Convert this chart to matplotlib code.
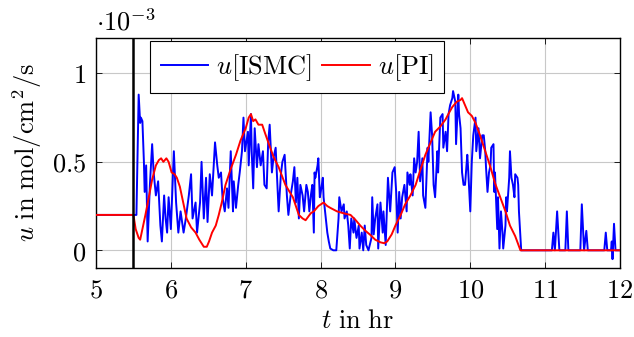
import matplotlib
matplotlib.use("Agg")
import matplotlib.pyplot as plt
import numpy as np

plt.rcParams['mathtext.fontset'] = 'cm'
plt.rcParams['font.family'] = 'serif'
plt.rcParams['font.serif'] = ['DejaVu Serif']

# PI control signal (x1e-3 mol/cm^2/s) vs time (hr)
pi_t = [5.0, 5.5, 5.53, 5.57, 5.59, 5.62, 5.66, 5.71, 5.75, 5.8, 5.84, 5.87, 5.9, 5.94, 5.97,
        6.01, 6.05, 6.08, 6.12, 6.15, 6.18, 6.21, 6.27, 6.33, 6.38, 6.44, 6.48, 6.51, 6.55, 6.6,
        6.64, 6.68, 6.73, 6.8, 6.87, 6.93, 7.0, 7.04, 7.07, 7.1, 7.13, 7.17, 7.22, 7.26, 7.31,
        7.37, 7.44, 7.53, 7.63, 7.71, 7.76, 7.8, 7.87, 7.91, 7.97, 8.04, 8.09, 8.13, 8.22, 8.3,
        8.4, 8.47, 8.53, 8.6, 8.67, 8.73, 8.8, 8.85, 8.89, 8.95, 9.0, 9.07, 9.13, 9.2, 9.27,
        9.33, 9.4, 9.47, 9.53, 9.6, 9.67, 9.72, 9.76, 9.82, 9.87, 9.89, 9.93, 9.97, 10.02, 10.07,
        10.13, 10.2, 10.27, 10.33, 10.4, 10.47, 10.53, 10.6, 10.67, 12.0]
pi_u = [0.2, 0.2, 0.12, 0.07, 0.06, 0.12, 0.2, 0.31, 0.4, 0.48, 0.51, 0.52, 0.5, 0.52, 0.5,
        0.44, 0.43, 0.41, 0.36, 0.30, 0.24, 0.18, 0.13, 0.10, 0.06, 0.02, 0.02, 0.05, 0.10, 0.14,
        0.2, 0.27, 0.37, 0.46, 0.54, 0.62, 0.69, 0.75, 0.77, 0.73, 0.74, 0.71, 0.71, 0.66, 0.60,
        0.53, 0.47, 0.37, 0.30, 0.20, 0.18, 0.17, 0.21, 0.22, 0.25, 0.27, 0.25, 0.24, 0.22, 0.21,
        0.20, 0.17, 0.14, 0.11, 0.085, 0.06, 0.045, 0.04, 0.05, 0.09, 0.14, 0.2, 0.26, 0.31, 0.37,
        0.45, 0.54, 0.61, 0.67, 0.70, 0.74, 0.78, 0.81, 0.84, 0.85, 0.86, 0.82, 0.78, 0.76, 0.72,
        0.65, 0.56, 0.47, 0.38, 0.30, 0.22, 0.14, 0.08, 0.0, 0.0]

# ISMC control signal
ismc_t = [5.0, 5.5, 5.54, 5.57, 5.59, 5.6, 5.62, 5.64, 5.65, 5.67, 5.69, 5.72, 5.75, 5.77, 5.8,
          5.83, 5.86, 5.88, 5.91, 5.93, 5.95, 5.97, 6.0, 6.04, 6.07, 6.1, 6.13, 6.17, 6.2, 6.24,
          6.27, 6.29, 6.33, 6.35, 6.39, 6.41, 6.44, 6.47, 6.49, 6.52, 6.55, 6.59, 6.62, 6.64, 6.67,
          6.69, 6.72, 6.75, 6.77, 6.8, 6.83, 6.84, 6.87, 6.9, 6.92, 6.95, 6.97, 6.99, 7.03, 7.04,
          7.07, 7.08, 7.1, 7.12, 7.15, 7.17, 7.2, 7.23, 7.25, 7.28, 7.3, 7.32, 7.35, 7.37, 7.4,
          7.43, 7.44, 7.47, 7.49, 7.52, 7.55, 7.57, 7.6, 7.63, 7.65, 7.67, 7.69, 7.71, 7.73, 7.76,
          7.78, 7.81, 7.83, 7.85, 7.87, 7.89, 7.91, 7.92, 7.93, 7.96, 7.97, 7.99, 8.01, 8.03, 8.04,
          8.07, 8.09, 8.11, 8.13, 8.17, 8.21, 8.24, 8.25, 8.28, 8.31, 8.32, 8.35, 8.37, 8.39, 8.41,
          8.44, 8.45, 8.48, 8.51, 8.52, 8.55, 8.57, 8.59, 8.61, 8.64, 8.68, 8.69, 8.71, 8.73, 8.76,
          8.77, 8.8, 8.83, 8.84, 8.87, 8.9, 8.93, 8.96, 8.99, 9.01, 9.03, 9.05, 9.07, 9.09, 9.12,
          9.15, 9.16, 9.19, 9.2, 9.23, 9.25, 9.27, 9.29, 9.31, 9.33, 9.36, 9.37, 9.4, 9.43, 9.44,
          9.47, 9.49, 9.51, 9.53, 9.56, 9.57, 9.6, 9.63, 9.64, 9.67, 9.69, 9.71, 9.73, 9.76, 9.77,
          9.8, 9.81, 9.84, 9.85, 9.87, 9.89, 9.91, 9.93, 9.96, 9.97, 10.0, 10.02, 10.04, 10.07, 10.08,
          10.11, 10.13, 10.16, 10.18, 10.2, 10.21, 10.23, 10.25, 10.27, 10.28, 10.31, 10.32, 10.33, 10.36, 10.37,
          10.39, 10.41, 10.43, 10.44, 10.47, 10.48, 10.49, 10.52, 10.53, 10.55, 10.57, 10.59, 10.6, 10.63, 10.64,
          10.65, 10.68, 11.09, 11.11, 11.13, 11.16, 11.19, 11.27, 11.29, 11.31, 11.47, 11.49, 11.52, 11.55, 11.57,
          11.79, 11.81, 11.83, 11.88, 11.89, 11.9, 11.92, 11.94, 12.0]
ismc_u = [0.2, 0.2, 0.2, 0.88, 0.72, 0.75, 0.73, 0.5, 0.33, 0.48, 0.05, 0.37, 0.6, 0.44, 0.31,
          0.39, 0.14, 0.05, 0.31, 0.18, 0.1, 0.3, 0.12, 0.56, 0.27, 0.1, 0.22, 0.1, 0.18, 0.31,
          0.43, 0.18, 0.27, 0.1, 0.27, 0.5, 0.18, 0.41, 0.16, 0.43, 0.31, 0.61, 0.48, 0.41, 0.44,
          0.3, 0.22, 0.35, 0.24, 0.56, 0.22, 0.39, 0.24, 0.37, 0.44, 0.56, 0.75, 0.56, 0.67, 0.48,
          0.77, 0.56, 0.35, 0.69, 0.47, 0.6, 0.48, 0.56, 0.37, 0.35, 0.61, 0.71, 0.44, 0.52, 0.58,
          0.31, 0.22, 0.43, 0.5, 0.54, 0.31, 0.2, 0.31, 0.39, 0.47, 0.27, 0.41, 0.18, 0.37, 0.31,
          0.22, 0.37, 0.33, 0.22, 0.31, 0.37, 0.1, 0.44, 0.41, 0.48, 0.52, 0.3, 0.35, 0.41, 0.3,
          0.18, 0.1, 0.05, 0.01, 0.0, 0.0, 0.18, 0.3, 0.22, 0.26, 0.18, 0.22, 0.14, 0.01, 0.18,
          0.1, 0.18, 0.07, 0.14, 0.01, 0.1, 0.0, 0.14, 0.03, 0.0, 0.07, 0.3, 0.09, 0.18, 0.26,
          0.01, 0.27, 0.1, 0.22, 0.03, 0.41, 0.22, 0.44, 0.47, 0.33, 0.1, 0.33, 0.18, 0.3, 0.37,
          0.22, 0.44, 0.37, 0.43, 0.31, 0.52, 0.44, 0.5, 0.67, 0.39, 0.52, 0.31, 0.24, 0.58, 0.5,
          0.78, 0.65, 0.37, 0.3, 0.56, 0.44, 0.75, 0.77, 0.58, 0.67, 0.56, 0.77, 0.82, 0.86, 0.9,
          0.84, 0.6, 0.88, 0.77, 0.69, 0.44, 0.37, 0.37, 0.54, 0.47, 0.22, 0.5, 0.65, 0.75, 0.56,
          0.69, 0.52, 0.65, 0.65, 0.56, 0.47, 0.33, 0.44, 0.48, 0.58, 0.6, 0.33, 0.44, 0.12, 0.3,
          0.01, 0.22, 0.1, 0.01, 0.14, 0.3, 0.22, 0.41, 0.56, 0.41, 0.37, 0.3, 0.43, 0.41, 0.37,
          0.22, 0.0, 0.0, 0.1, 0.0, 0.22, 0.0, 0.0, 0.22, 0.0, 0.0, 0.26, 0.0, 0.11, 0.0,
          0.0, 0.1, 0.0, 0.0, 0.05, -0.05, 0.15, 0.0, 0.0]

switch_time = 5.5
x_ticks = [5, 6, 7, 8, 9, 10, 11, 12]
y_ticks = [0, 0.5, 1]
y_tick_labels = ['$0$', '$0.5$', '$1$']

FS = 19

fig = plt.figure(figsize=(6.34, 3.37), dpi=100)
ax = fig.add_axes([96/634, 1-268/337, (620-96)/634, (268-38)/337])

ax.grid(True, color='#c8c8c8', linewidth=0.8, zorder=0)
ax.set_axisbelow(True)

ax.plot(ismc_t, ismc_u, color='#0000ff', linewidth=1.4, label=r'$u\mathrm{[ISMC]}$', zorder=2)
ax.plot(pi_t, pi_u, color='#ff0000', linewidth=1.4, label=r'$u\mathrm{[PI]}$', zorder=3)
ax.axvline(switch_time, color='black', linewidth=1.8, zorder=4)

ax.set_xlim(5, 12)
ax.set_ylim(-0.1, 1.2)
ax.set_xticks(x_ticks)
ax.set_xticklabels([f'${v}$' for v in x_ticks])
ax.set_yticks(y_ticks)
ax.set_yticklabels(y_tick_labels)
ax.tick_params(direction='in', length=4, width=0.6, top=True, right=True,
               labelsize=FS, colors='black', pad=7)
for s in ax.spines.values():
    s.set_linewidth(1.0)
    s.set_color('black')

ax.set_xlabel(r'$t\ \mathrm{in\ hr}$', fontsize=FS, labelpad=4)
ax.set_ylabel(r'$u\ \mathrm{in\ mol/cm^2/s}$', fontsize=FS, labelpad=6)
ax.text(0.0, 1.01, r'$\cdot 10^{-3}$', transform=ax.transAxes, fontsize=FS,
        ha='left', va='bottom')

leg = ax.legend(loc='upper left', bbox_to_anchor=(0.103, 0.985), ncol=2, fontsize=FS,
                frameon=True, fancybox=False, edgecolor='black', framealpha=1,
                handlelength=1.8, columnspacing=0.4, handletextpad=0.3,
                borderpad=0.4, borderaxespad=0.0, handleheight=0.5)
leg.get_frame().set_linewidth(0.8)

fig.savefig('out.png', dpi=100)
